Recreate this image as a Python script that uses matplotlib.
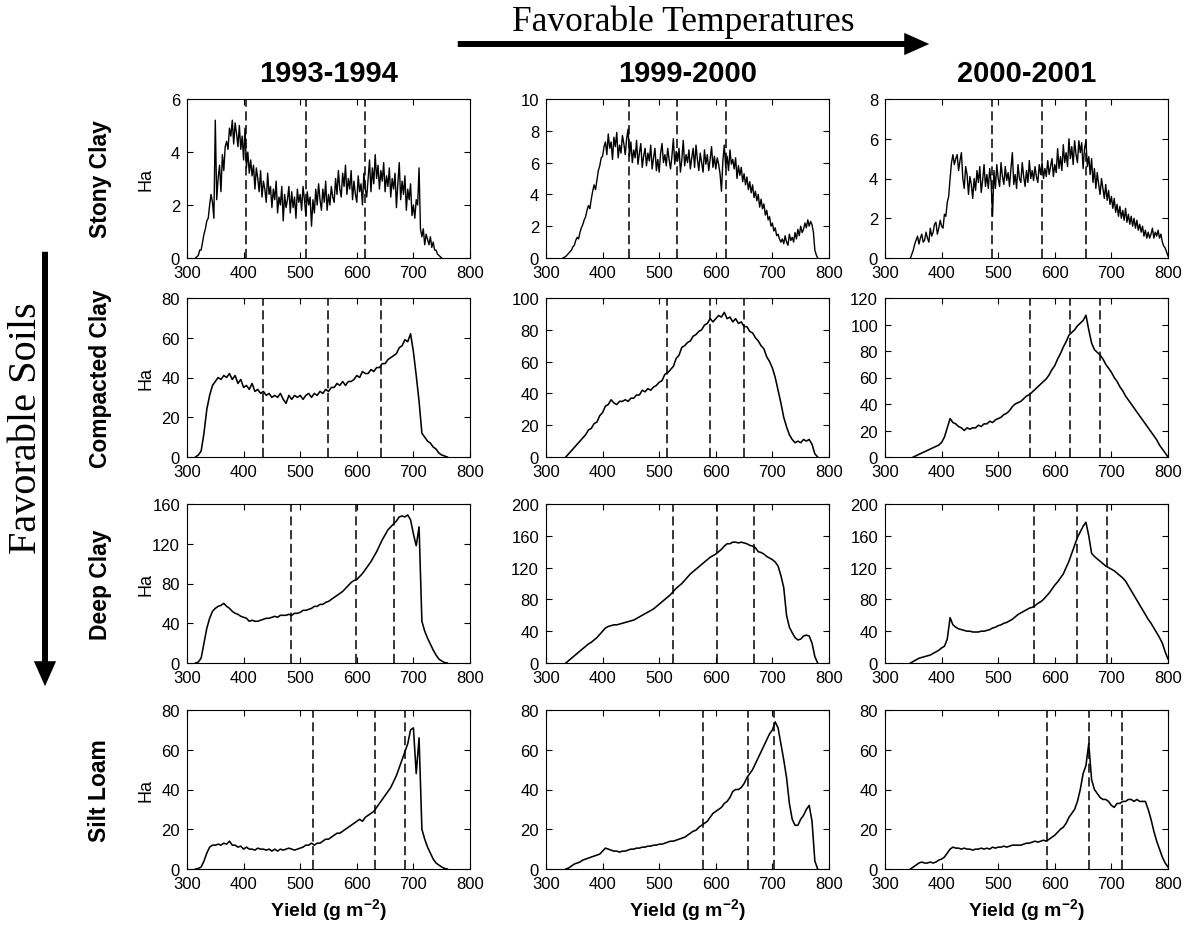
import numpy as np
import matplotlib
matplotlib.use("Agg")
import matplotlib.pyplot as plt
from matplotlib.patches import FancyArrowPatch

plt.rcParams['font.family'] = ['Liberation Sans', 'DejaVu Sans']
plt.rcParams['mathtext.fontset'] = 'custom'
plt.rcParams['mathtext.rm'] = 'Liberation Sans'
plt.rcParams['mathtext.bf'] = 'Liberation Sans:bold'

W, H = 1195, 929

seasons = ["1993-1994", "1999-2000", "2000-2001"]
soils = ["Stony Clay", "Compacted Clay", "Deep Clay", "Silt Loam"]

# y-axis limits and tick steps per soil row and season column
y_max = [[6, 10, 8], [80, 100, 120], [160, 200, 200], [80, 80, 80]]
y_step = [[2, 2, 2], [20, 20, 20], [40, 40, 40], [20, 20, 20]]

# dashed vertical markers (g m-2)
dashes = [
    [[405, 511, 615], [447, 532, 618], [489, 577, 655]],
    [[434, 549, 642], [513, 590, 650], [557, 627, 679]],
    [[484, 598, 665], [525, 602, 667], [563, 639, 692]],
    [[522, 633, 686], [577, 657, 703], [586, 660, 718]],
]

# yield bin width per soil row (g m-2)
bin_width = [2.5, 5, 5, 5]

# hectares per yield bin, first bin at *_start
stony_9394_start = 315
stony_9394 = [0, 0.05, 0.1, 0.3, 0.3, 0.6, 0.9, 1.1, 1.4, 1.5, 2.0, 2.4, 2.1, 1.5,
              5.2, 2.2, 3.0, 3.5, 2.5, 3.9, 3.3, 4.2, 4.4, 4.1, 4.9, 4.6, 5.2, 4.3, 5.1, 4.7, 4.2, 5.0,
              4.1, 4.6, 3.7, 4.9, 3.4, 4.0, 3.2, 3.7, 3.1, 3.5, 2.6, 3.4, 3.0, 2.5, 3.3, 2.3, 2.9, 2.6,
              2.1, 3.2, 2.4, 2.7, 1.9, 2.6, 2.2, 2.9, 1.7, 2.3, 2.0, 2.7, 1.4, 2.4, 1.9, 2.2, 2.7, 1.7,
              2.5, 1.9, 2.3, 1.5, 2.6, 2.1, 2.4, 1.8, 2.7, 2.2, 1.6, 2.5, 2.0, 2.3, 1.2, 2.2, 1.7, 2.6,
              2.0, 2.8, 2.2, 1.8, 2.6, 2.1, 2.9, 1.8, 2.4, 2.0, 2.7, 2.3, 2.1, 3.0, 2.4, 3.3, 2.6, 2.3,
              3.2, 2.7, 3.5, 2.4, 3.0, 2.6, 3.3, 2.2, 2.9, 2.4, 2.1, 3.1, 2.5, 2.8, 2.0, 3.2, 2.6, 2.3,
              3.0, 3.7, 2.5, 3.4, 2.8, 3.9, 3.0, 3.5, 2.6, 3.3, 2.9, 3.6, 2.5, 3.1, 2.7, 3.4, 2.3, 3.0,
              2.6, 3.2, 1.9, 2.8, 3.6, 2.2, 2.9, 2.4, 3.1, 1.8, 2.6, 2.2, 2.8, 1.6, 2.0, 1.5, 2.2, 2.0,
              3.4, 1.1, 0.8, 1.1, 0.5, 0.9, 0.7, 0.5, 0.8, 0.4, 0.6, 0.3, 0.3, 0.15, 0.1, 0.05, 0]
stony_9900_start = 330
stony_9900 = [0, 0.05, 0.1, 0.2, 0.3, 0.4, 0.5, 0.7, 0.8, 1.1, 1.3, 1.2, 1.6, 1.9, 2.1, 2.4, 2.6, 3.0,
              3.3, 3.1, 3.7, 4.2, 4.6, 4.3, 4.9, 5.5, 5.8, 6.3, 6.4, 7.0, 7.3, 6.5, 7.8, 6.9, 7.3, 6.2,
              7.6, 7.0, 7.9, 6.3, 7.1, 6.6, 7.7, 7.2, 6.5, 7.5, 8.1, 6.4, 7.3, 6.0, 6.8, 6.3, 7.4, 5.9,
              6.6, 7.2, 5.7, 6.4, 6.9, 5.8, 6.6, 6.1, 7.1, 5.6, 6.3, 6.9, 5.5, 6.2, 5.4, 6.6, 7.2, 6.0,
              6.5, 5.8, 6.9, 6.2, 5.6, 6.4, 7.5, 5.9, 6.7, 6.1, 6.9, 5.4, 6.2, 7.4, 5.8, 6.5, 6.0, 6.8,
              5.6, 6.3, 6.9, 5.7, 7.1, 6.2, 5.5, 6.6, 6.0, 5.4, 6.8, 5.9, 6.5, 5.5, 6.2, 7.0, 5.7, 6.4,
              5.6, 6.3, 5.9, 5.3, 4.2, 6.1, 7.1, 5.7, 6.4, 5.5, 6.8, 5.9, 6.2, 5.6, 6.3, 5.0, 5.8, 5.2,
              5.7, 4.8, 5.3, 4.6, 5.1, 4.3, 4.8, 4.1, 4.6, 3.8, 4.2, 3.6, 4.0, 3.2, 3.7, 3.1, 3.4, 2.7,
              3.0, 2.4, 2.6, 2.0, 2.2, 1.7, 1.9, 1.4, 1.5, 1.2, 1.0, 1.2, 0.9, 1.4, 1.0, 0.8, 1.5, 1.1,
              1.3, 1.0, 1.6, 1.2, 1.8, 1.4, 2.0, 1.6, 1.8, 2.2, 1.9, 2.4, 2.0, 2.3, 2.1, 1.6, 0.5, 0.2, 0]
stony_0001_start = 345
stony_0001 = [0, 0.2, 0.4, 0.7, 0.9, 1.1, 0.7, 1.0, 1.2, 0.8, 0.9, 1.3, 1.0, 0.8, 1.5, 1.1, 1.3, 1.7,
              1.8, 1.2, 1.5, 1.9, 1.6, 1.5, 2.2, 2.1, 2.8, 3.1, 4.0, 4.8, 5.2, 4.7, 5.0, 5.2, 4.4, 4.9,
              5.3, 4.0, 3.5, 4.6, 4.2, 3.2, 4.1, 3.7, 3.0, 4.0, 3.4, 4.4, 3.8, 4.6, 3.3, 3.9, 4.7, 3.6,
              4.2, 3.5, 4.5, 3.8, 2.1, 4.4, 3.5, 4.7, 4.0, 3.6, 4.8, 4.1, 3.7, 4.6, 3.9, 4.3, 3.6, 4.5,
              5.3, 3.7, 4.2, 3.5, 4.7, 4.0, 3.8, 4.8, 4.1, 3.6, 4.4, 3.8, 4.9, 4.0, 4.4, 3.9, 4.6, 4.1,
              3.8, 4.7, 4.2, 4.8, 4.0, 4.5, 4.1, 4.9, 4.2, 4.6, 5.0, 4.1, 4.7, 4.3, 5.5, 4.5, 5.1, 4.4,
              5.7, 4.8, 5.3, 4.6, 6.0, 5.0, 5.6, 4.7, 5.9, 5.2, 4.8, 5.9, 5.3, 5.8, 4.5, 5.5, 5.9, 4.6,
              5.1, 4.2, 5.0, 3.8, 4.5, 3.5, 4.3, 3.7, 3.2, 4.0, 3.5, 3.0, 3.7, 2.9, 3.4, 2.7, 3.1, 2.5,
              3.0, 2.3, 2.7, 2.1, 2.6, 2.0, 2.4, 1.9, 2.5, 1.8, 2.2, 1.7, 2.1, 1.6, 2.0, 1.5, 1.9, 1.4,
              1.7, 1.3, 1.6, 1.1, 1.4, 1.0, 1.3, 1.0, 1.2, 1.5, 1.0, 1.3, 1.1, 1.4, 1.0, 1.2, 0.8, 0.6,
              0.5, 0.3, 0.1]

comp_9394_start = 315
comp_9394 = [0, 1, 3, 12, 24, 31, 36, 38, 40, 39, 41, 40, 42, 39, 41, 37, 39, 35, 36, 34, 37, 33, 34,
             32, 33, 31, 32, 30, 31, 30, 32, 29, 27, 31, 29, 31, 30, 31, 29, 31, 32, 30, 32, 31, 33, 32,
             34, 33, 35, 35, 37, 36, 38, 36, 38, 38, 39, 41, 40, 43, 42, 42, 44, 43, 45, 45, 47, 47, 49,
             50, 51, 52, 55, 56, 59, 58, 62, 53, 41, 28, 12, 10, 8, 7, 5, 4, 2, 1, 0.5, 0]
comp_9900_start = 335
comp_9900 = [0, 2, 4, 6, 8, 10, 12, 14, 17, 18, 21, 22, 26, 28, 32, 33, 36, 34, 33, 35, 35, 36, 35, 37,
             37, 39, 39, 42, 41, 43, 42, 44, 45, 47, 48, 52, 53, 55, 57, 62, 64, 69, 70, 72, 73, 76, 77,
             79, 80, 83, 84, 87, 85, 87, 89, 88, 91, 87, 88, 85, 87, 84, 85, 82, 82, 79, 78, 75, 73, 70,
             68, 63, 60, 56, 50, 42, 34, 25, 19, 14, 11, 9, 10, 9, 11, 10, 11, 8, 2, 0]
comp_0001_start = 350
comp_0001 = [0, 1, 2, 3, 4, 5, 6, 7, 8, 9, 11, 15, 22, 29, 26, 25, 23, 22, 20, 22, 21, 22, 22, 24, 23,
             25, 25, 27, 26, 28, 29, 30, 32, 33, 35, 38, 40, 41, 42, 44, 46, 47, 49, 51, 53, 55, 57, 59,
             62, 66, 69, 74, 78, 83, 87, 92, 94, 96, 99, 101, 103, 107, 96, 86, 81, 79, 77, 74, 70, 67,
             64, 60, 57, 53, 50, 46, 43, 40, 37, 34, 31, 28, 25, 22, 19, 16, 13, 9, 6, 3, 0]

deep_9394_start = 315
deep_9394 = [0, 1, 5, 20, 35, 45, 52, 55, 57, 58, 60, 57, 55, 52, 50, 49, 47, 46, 45, 42, 43, 42, 42,
             43, 44, 45, 45, 46, 47, 46, 48, 48, 48, 49, 48, 50, 50, 51, 53, 53, 54, 55, 57, 57, 59, 59,
             61, 62, 64, 66, 68, 70, 72, 75, 78, 81, 83, 84, 87, 90, 94, 98, 102, 107, 112, 118, 124, 129,
             134, 137, 140, 143, 147, 148, 147, 149, 144, 130, 118, 137, 42, 32, 25, 19, 13, 8, 4, 2, 0.5, 0]
deep_9900_start = 335
deep_9900 = [0, 3, 6, 9, 12, 15, 18, 21, 24, 26, 29, 32, 36, 40, 44, 46, 47, 48, 48, 49, 50, 51, 52, 53,
             54, 56, 58, 60, 62, 64, 66, 68, 71, 74, 77, 80, 83, 86, 90, 94, 97, 100, 104, 108, 112, 115,
             118, 121, 124, 127, 130, 133, 135, 137, 140, 143, 147, 150, 150, 152, 152, 151, 152, 151,
             150, 148, 147, 145, 140, 139, 137, 134, 132, 130, 127, 122, 110, 95, 60, 45, 38, 32, 29, 30,
             34, 35, 34, 25, 8, 0]
deep_0001_start = 345
deep_0001 = [0, 2, 4, 6, 7, 8, 9, 10, 12, 14, 16, 19, 21, 30, 57, 48, 45, 43, 42, 41, 40, 40, 39, 39,
             39, 40, 40, 41, 42, 44, 45, 47, 48, 50, 51, 53, 55, 58, 61, 63, 65, 67, 69, 70, 72, 75, 77,
             80, 84, 88, 93, 98, 102, 107, 112, 120, 128, 138, 148, 158, 165, 172, 177, 160, 138, 134,
             131, 128, 125, 122, 120, 118, 116, 113, 110, 107, 103, 97, 91, 85, 79, 73, 67, 61, 55, 50,
             44, 38, 32, 25, 14, 5]

silt_9394_start = 315
silt_9394 = [0, 0.3, 1, 4, 8, 11, 12, 12, 12.5, 12, 13, 12.5, 14, 12, 12, 11, 11.5, 10, 11, 10, 10, 9.5,
             10.5, 10, 10, 9.5, 10, 9, 10, 9, 10, 9.5, 10, 10.5, 10, 9.5, 10, 10.5, 11, 12, 12, 13, 12,
             13, 13, 14, 15, 15, 16, 17, 18, 18, 19, 20, 21, 22, 23, 24, 25, 24, 26, 27, 28, 29, 31, 33,
             35, 37, 39, 41, 44, 47, 51, 55, 59, 63, 70, 71, 48, 66, 20, 15, 11, 8, 5, 3, 2, 1, 0.3, 0]
silt_9900_start = 335
silt_9900 = [0, 0.5, 1.5, 2.5, 3, 3.5, 4.5, 5, 5.5, 6, 6.5, 7, 7.5, 9, 10.5, 10, 9.5, 9, 9, 8.5, 9, 9,
             9.5, 10, 10, 10.5, 10.5, 11, 11, 11.5, 11.5, 12, 12, 12.5, 12.5, 13, 13.5, 14, 14, 14.5,
             15, 15.5, 16, 17, 18, 19, 19.5, 21, 22, 23, 24, 26, 28, 29, 30, 31, 33, 34, 36, 39, 40, 40,
             41, 43, 46, 48, 50, 53, 56, 59, 62, 65, 68, 70, 74, 71, 63, 55, 46, 33, 25, 22, 22, 25, 27,
             30, 32, 24, 4, 0]
silt_0001_start = 345
silt_0001 = [0, 1, 2, 3, 3.5, 3, 3, 3.5, 3, 3.5, 4.5, 5, 6, 8, 10, 11, 10.5, 10.5, 10, 10.5, 10, 10, 9.5,
             10, 10, 10.5, 10, 10.5, 10, 11, 10.5, 11, 11, 11.5, 11, 11.5, 12, 12, 12, 12, 12.5, 13, 13,
             13.5, 14, 13.5, 14, 14.5, 14, 15, 16, 17, 18.5, 20, 21, 23, 26, 28, 30, 34, 40, 48, 52, 63,
             45, 40, 38, 36, 35, 35, 34, 32, 31, 33, 33, 34, 34, 35, 35, 34, 35, 34, 34, 34, 30, 25, 19,
             14, 10, 6, 3, 1]

curves = [
    [(stony_9394_start, stony_9394), (stony_9900_start, stony_9900), (stony_0001_start, stony_0001)],
    [(comp_9394_start, comp_9394), (comp_9900_start, comp_9900), (comp_0001_start, comp_0001)],
    [(deep_9394_start, deep_9394), (deep_9900_start, deep_9900), (deep_0001_start, deep_0001)],
    [(silt_9394_start, silt_9394), (silt_9900_start, silt_9900), (silt_0001_start, silt_0001)],
]

fig = plt.figure(figsize=(W / 100, H / 100), dpi=100)

col_left = [187, 546, 885]
col_w = 283
row_top = [100, 299, 505, 711]
row_h = 159

for r in range(4):
    for c in range(3):
        ax = fig.add_axes([col_left[c] / W, 1 - (row_top[r] + row_h) / H, col_w / W, row_h / H])
        start, vals = curves[r][c]
        x = start + bin_width[r] * np.arange(len(vals))
        ax.plot(x, vals, color='black', lw=1.0 if r == 0 else 1.15)
        for d in dashes[r][c]:
            ax.axvline(d, color='black', lw=1.1, dashes=(6, 3))
        ax.set_xlim(300, 800)
        ax.set_ylim(0, y_max[r][c])
        ax.set_xticks(np.arange(300, 801, 100))
        ax.set_yticks(np.arange(0, y_max[r][c] + 1e-9, y_step[r][c]))
        ax.tick_params(direction='in', top=True, right=True, length=4, width=0.8,
                       labelsize=12, pad=5)
        for s in ax.spines.values():
            s.set_linewidth(0.8)
        if c == 0:
            ax.set_ylabel("Ha", fontsize=13)
            ax.yaxis.set_label_coords(-0.115, 0.5)
        if r == 3:
            ax.set_xlabel("Yield (g m$^{\\mathbf{-2}}$)", fontsize=14, fontweight='bold', labelpad=4)
        if r == 0:
            ax.set_title(seasons[c], fontsize=21, fontweight='bold', pad=13)

for r, name in enumerate(soils):
    fig.text(100 / W, 1 - (row_top[r] + row_h / 2) / H, name, rotation=90, fontsize=16.5,
             fontweight='bold', ha='center', va='center')

fig.text(683 / W, 1 - 22 / H, "Favorable Temperatures", family='Liberation Serif',
         fontsize=25.5, ha='center', va='center')
fig.text(27 / W, 1 - 428 / H, "Favorable Soils", family='Liberation Serif',
         fontsize=29, rotation=90, ha='center', va='center')

arrow_style = 'simple,head_length=18,head_width=16,tail_width=4.3'
fig.add_artist(FancyArrowPatch((455 / 100, (H - 45) / 100), (932 / 100, (H - 45) / 100),
                               transform=fig.dpi_scale_trans, arrowstyle=arrow_style,
                               mutation_scale=1, color='black', lw=0))
fig.add_artist(FancyArrowPatch((45 / 100, (H - 250) / 100), (45 / 100, (H - 690) / 100),
                               transform=fig.dpi_scale_trans, arrowstyle=arrow_style,
                               mutation_scale=1, color='black', lw=0))

fig.savefig("out.png", dpi=100)
